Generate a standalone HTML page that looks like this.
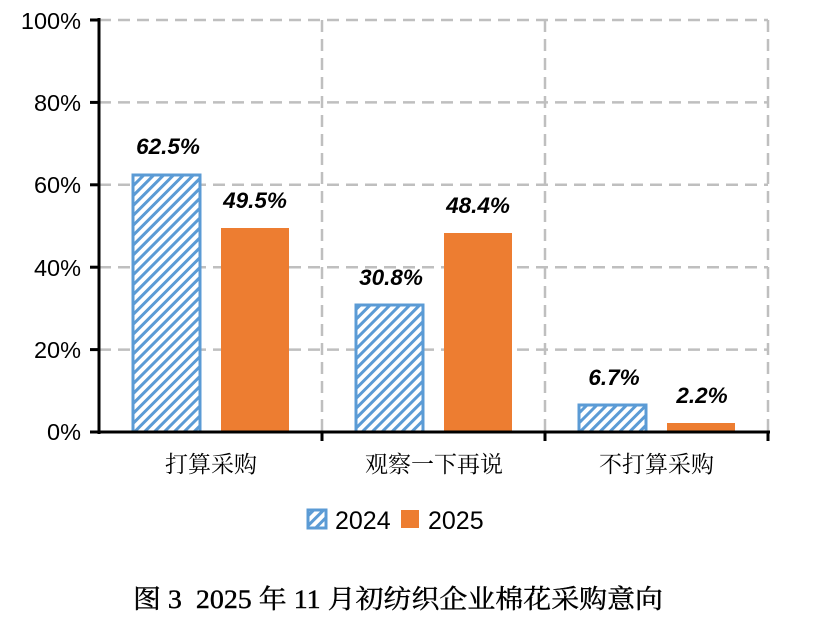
<!DOCTYPE html>
<html><head><meta charset="utf-8"><style>
body{margin:0;background:#fff;width:822px;height:615px;overflow:hidden}
</style></head><body>
<svg width="822" height="615" xmlns="http://www.w3.org/2000/svg">
<defs>
<pattern id="h" patternUnits="userSpaceOnUse" width="7" height="7" patternTransform="rotate(45)">
<rect width="7" height="7" fill="#fff"/><rect width="3" height="7" fill="#5b9bd5"/>
</pattern>
</defs>
<g stroke="#bfbfbf" stroke-width="2.5" stroke-dasharray="12,7" fill="none">
<line x1="99" y1="20" x2="768" y2="20"/>
<line x1="99" y1="102.4" x2="768" y2="102.4"/>
<line x1="99" y1="184.8" x2="768" y2="184.8"/>
<line x1="99" y1="267.2" x2="768" y2="267.2"/>
<line x1="99" y1="349.6" x2="768" y2="349.6"/>
<line x1="322" y1="20" x2="322" y2="432"/>
<line x1="545" y1="20" x2="545" y2="432"/>
<line x1="768" y1="20" x2="768" y2="432"/>
</g>
<g stroke="#5b9bd5" stroke-width="3" fill="url(#h)">
<rect x="133" y="175" width="67" height="257"/>
<rect x="356" y="305" width="67" height="127"/>
<rect x="579" y="405" width="67" height="27"/>
</g>
<g fill="#ed7d31">
<rect x="221" y="228" width="68" height="204"/>
<rect x="444" y="233" width="68" height="199"/>
<rect x="667" y="423" width="68" height="9"/>
</g>
<g stroke="#000" stroke-width="3" fill="none">
<line x1="99" y1="18" x2="99" y2="434"/>
<line x1="97" y1="432" x2="770" y2="432"/>
<line x1="90" y1="20" x2="99" y2="20"/>
<line x1="90" y1="102.4" x2="99" y2="102.4"/>
<line x1="90" y1="184.8" x2="99" y2="184.8"/>
<line x1="90" y1="267.2" x2="99" y2="267.2"/>
<line x1="90" y1="349.6" x2="99" y2="349.6"/>
<line x1="90" y1="432" x2="99" y2="432"/>
<line x1="322" y1="432" x2="322" y2="441"/>
<line x1="545" y1="432" x2="545" y2="441"/>
<line x1="768" y1="432" x2="768" y2="441"/>
</g>
<g font-family="Liberation Sans, sans-serif" font-size="23.5" text-anchor="end" fill="#000">
<text x="81" y="29">100%</text>
<text x="81" y="111">80%</text>
<text x="81" y="193">60%</text>
<text x="81" y="276">40%</text>
<text x="81" y="358">20%</text>
<text x="81" y="440">0%</text>
</g>
<g font-family="Liberation Sans, sans-serif" font-size="22.5" font-weight="bold" font-style="italic" text-anchor="middle" fill="#000">
<text x="168" y="154">62.5%</text>
<text x="255" y="208">49.5%</text>
<text x="391" y="285">30.8%</text>
<text x="478" y="213">48.4%</text>
<text x="614" y="385">6.7%</text>
<text x="702" y="403">2.2%</text>
</g>
<g font-family="Liberation Serif, 'Noto Serif CJK SC', serif" font-size="23" fill="#000">
<text x="165" y="472" textLength="92" lengthAdjust="spacingAndGlyphs">打算采购</text>
<text x="365" y="472" textLength="138" lengthAdjust="spacingAndGlyphs">观察一下再说</text>
<text x="599" y="472" textLength="115" lengthAdjust="spacingAndGlyphs">不打算采购</text>
</g>
<rect x="308" y="510" width="18" height="18" fill="url(#h)" stroke="#5b9bd5" stroke-width="3"/>
<rect x="401" y="510" width="18" height="18" fill="#ed7d31"/>
<g font-family="Liberation Sans, sans-serif" font-size="25" fill="#000">
<text x="335" y="529">2024</text>
<text x="428" y="529">2025</text>
</g>
<text x="133" y="608" font-family="Liberation Serif, 'Noto Serif CJK SC', serif" font-size="26" fill="#000" stroke="#000" stroke-width="0.4" textLength="530" lengthAdjust="spacingAndGlyphs" xml:space="preserve">图 3  2025 年 11 月初纺织企业棉花采购意向</text>
</svg>
</body></html>
